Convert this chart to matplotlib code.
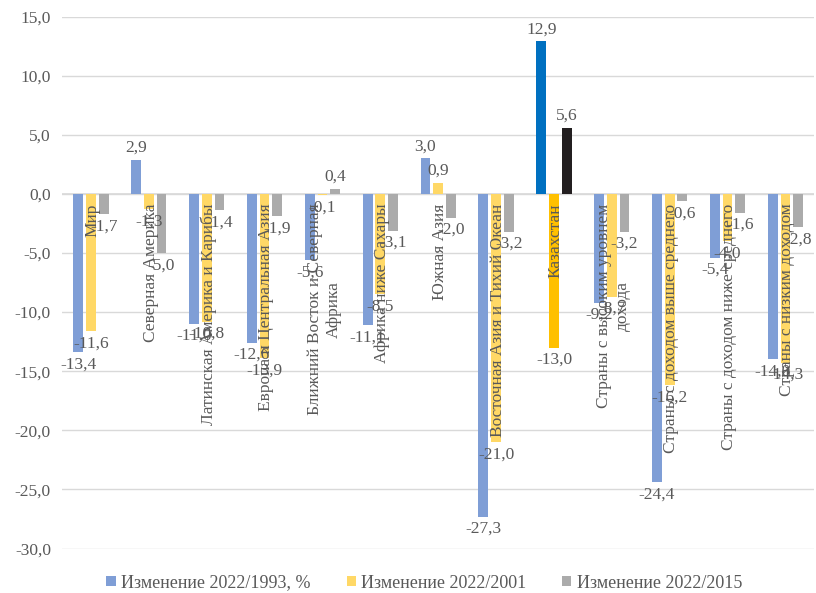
import numpy as np
import matplotlib.pyplot as plt

plt.rcParams['font.family'] = ['Liberation Serif', 'DejaVu Serif']

categories = ['Мир', 'Северная Америка', 'Латинская Америка и Карибы',
              'Европа и Центральная Азия', 'Ближний Восток и Северная\nАфрика',
              'Африка ниже Сахары', 'Южная Азия', 'Восточная Азия и Тихий Океан',
              'Казахстан', 'Страны с высоким уровнем\nдохода',
              'Страны с доходом выше среднего', 'Страны с доходом ниже среднего',
              'Страны с низким доходом']
ch_1993 = [-13.4, 2.9, -11.0, -12.6, -5.6, -11.1, 3.0, -27.3, 12.9, -9.2, -24.4, -5.4, -14.0]
ch_2001 = [-11.6, -1.3, -10.8, -13.9, -0.1, -8.5, 0.9, -21.0, -13.0, -8.7, -16.2, -4.0, -14.3]
ch_2015 = [-1.7, -5.0, -1.4, -1.9, 0.4, -3.1, -2.0, -3.2, 5.6, -3.2, -0.6, -1.6, -2.8]
series_names = ['Изменение 2022/1993, %', 'Изменение 2022/2001', 'Изменение 2022/2015']

colors = ['#7F9ED6', '#FFD866', '#ABABAB']
kz_colors = ['#0070C0', '#FFC000', '#231F20']
kz = categories.index('Казахстан')
txt = '#595959'

fig = plt.figure(figsize=(8.16, 5.93), dpi=100)
ax = fig.add_axes([0.076, 0.075, 0.922, 0.897])

x = np.arange(len(categories))
w = 0.17
offs = [-0.22, 0.0, 0.22]
for vals, name, c, kc, o in zip([ch_1993, ch_2001, ch_2015], series_names, colors, kz_colors, offs):
    cols = [kc if i == kz else c for i in range(len(vals))]
    ax.bar(x + o, vals, w, color=cols, label=name, zorder=2)
    for xi, v in zip(x + o, vals):
        lab = f'{v:.1f}'.replace('.', ',')
        if v >= 0:
            ax.annotate(lab, (xi, v), xytext=(0, 3), textcoords='offset points',
                        ha='center', va='bottom', fontsize=12.5, color=txt, zorder=4)
        else:
            ax.annotate(lab, (xi, v), xytext=(0, -3), textcoords='offset points',
                        ha='center', va='top', fontsize=12.5, color=txt, zorder=4)

# category labels next to zero axis, rotated
for xi, c in zip(x, categories):
    ax.annotate(c, (xi + 0.03, 0), xytext=(0, -7), textcoords='offset points',
                rotation=90, ha='center', va='top', fontsize=12.5, color=txt,
                multialignment='center', zorder=3)

ax.set_xlim(-0.5, len(categories) - 0.5)
ax.set_ylim(-30, 15)
ax.set_yticks(np.arange(-30, 16, 5))
ax.set_yticklabels([f'{t:.1f}'.replace('.', ',') for t in np.arange(-30, 16, 5)])
ax.tick_params(axis='y', length=0, labelsize=12.5, labelcolor=txt, pad=8)
ax.set_xticks([])
ax.grid(axis='y', color='#D9D9D9', lw=1, zorder=0)
ax.axhline(0, color='#D9D9D9', lw=1.2, zorder=1)
for s in ax.spines.values():
    s.set_visible(False)

leg = fig.legend(*ax.get_legend_handles_labels(), loc='lower center', ncol=3,
                 bbox_to_anchor=(0.52, -0.025), frameon=False, fontsize=13,
                 handlelength=0.5, handleheight=0.5, handletextpad=0.3, columnspacing=2.0)
for t in leg.get_texts():
    t.set_color(txt)

plt.savefig('out.png', dpi=100)
